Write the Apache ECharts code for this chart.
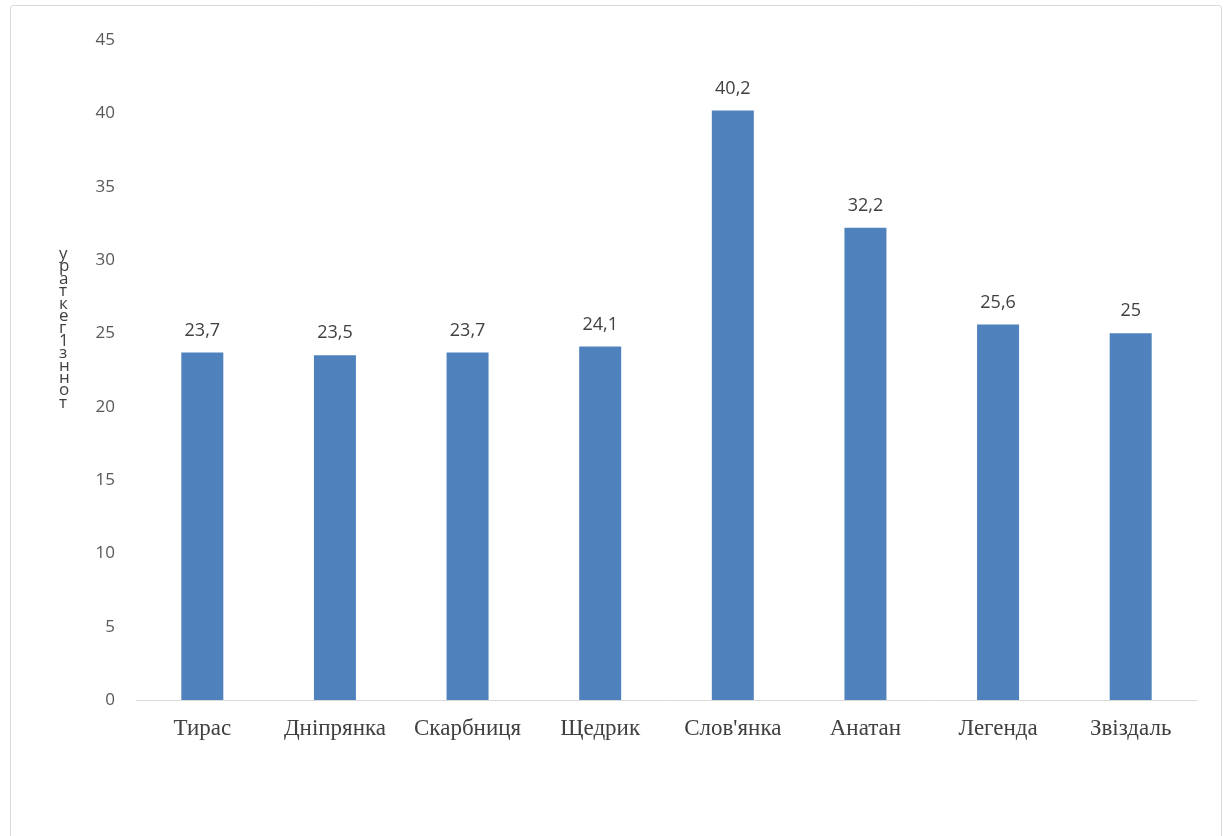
<!DOCTYPE html>
<html>
<head>
<meta charset="utf-8">
<script src="https://cdn.jsdelivr.net/npm/echarts@6/dist/echarts.min.js"></script>
<style>
html,body{margin:0;padding:0;background:#fff;}
#chart{width:1230px;height:836px;}
</style>
</head>
<body>
<div id="chart"></div>
<script>
const categories = ['Тирас', 'Дніпрянка', 'Скарбниця', 'Щедрик', "Слов'янка", 'Анатан', 'Легенда', 'Звіздаль'];
const values = [23.7, 23.5, 23.7, 24.1, 40.2, 32.2, 25.6, 25];
const yTicks = { min: 0, max: 45, interval: 5 };
const yAxisTitleChars = ['у', 'р', 'а', 'т', 'к', 'е', 'г', '1', 'з', 'н', 'н', 'о', 'т'];

const chart = echarts.init(document.getElementById('chart'));
chart.setOption({
  animation: false,
  backgroundColor: '#fff',
  graphic: [{
    type: 'rect',
    shape: { x: 10.5, y: 5.5, width: 1211, height: 850, r: 3 },
    style: { fill: 'none', stroke: '#d9d9d9', lineWidth: 1 },
    silent: true
  }],
  title: {
    text: yAxisTitleChars.join('\n'),
    left: 54,
    top: 243,
    textStyle: { fontFamily: 'Open Sans', fontSize: 17, fontWeight: 'normal', color: '#404040', lineHeight: 12.4 }
  },
  grid: { left: 136, right: 33, top: 40, bottom: 136, containLabel: false },
  xAxis: {
    type: 'category',
    data: categories,
    axisLine: { lineStyle: { color: '#d9d9d9', width: 1 } },
    axisTick: { show: false },
    axisLabel: { interval: 0, fontFamily: 'Liberation Serif', fontSize: 23, color: '#404040', margin: 17 }
  },
  yAxis: {
    type: 'value',
    min: yTicks.min, max: yTicks.max, interval: yTicks.interval,
    axisLine: { show: false },
    axisTick: { show: false },
    splitLine: { show: false },
    axisLabel: { fontFamily: 'Open Sans', fontSize: 17, color: '#595959', margin: 21 }
  },
  series: [{
    type: 'bar',
    data: values,
    barWidth: 42,
    itemStyle: { color: '#4f81bd' },
    label: {
      show: true,
      position: 'top',
      distance: 13,
      fontFamily: 'Open Sans',
      fontSize: 18,
      color: '#404040',
      formatter: p => String(p.value).replace('.', ',')
    }
  }]
});
</script>
</body>
</html>
